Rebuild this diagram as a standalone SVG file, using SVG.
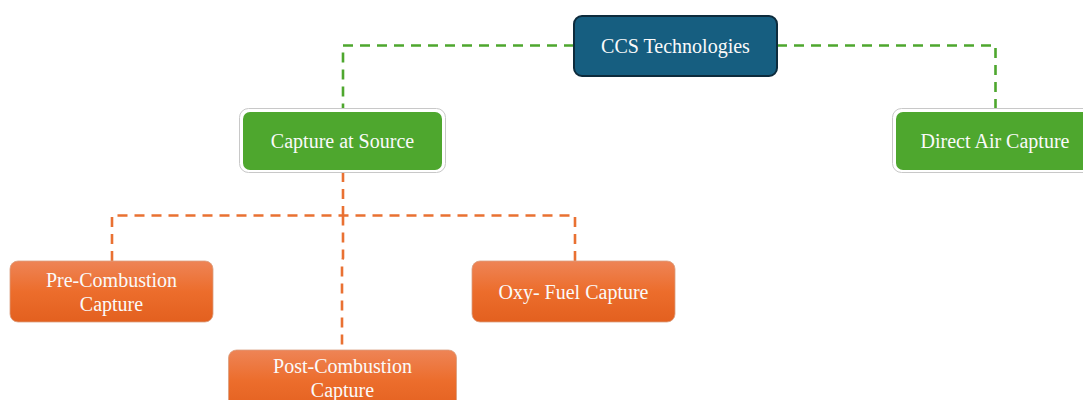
<svg xmlns="http://www.w3.org/2000/svg" width="1083" height="400" viewBox="0 0 1083 400">
  <defs>
    <linearGradient id="orangeGrad" x1="0" y1="0" x2="0" y2="1">
      <stop offset="0" stop-color="#ee8456"/>
      <stop offset="0.5" stop-color="#ec6d2c"/>
      <stop offset="1" stop-color="#e3601f"/>
    </linearGradient>
  </defs>
  <style>
    .lbl { font-family: "Liberation Serif", "Times New Roman", serif; font-size: 20px; fill: #fafafa; text-anchor: middle; }
    .root { fill: #165e80; stroke: #0d2b3c; stroke-width: 2; }
    .halo { fill: #ffffff; stroke: #c8c8c8; stroke-width: 1; }
    .green { fill: #4ea72e; }
    .orange { fill: url(#orangeGrad); stroke: #d9a080; stroke-width: 0.8; }
    .conn { fill: none; stroke-width: 2.6; stroke-dasharray: 10 7; }
    .g { stroke: #4ea72e; }
    .o { stroke: #e97132; }
  </style>

  <rect width="1083" height="400" fill="#ffffff"/>

  <!-- connectors -->
  <g id="connectors">
    <path class="conn g" d="M574 45.5 H343 V110"/>
    <path class="conn g" d="M777 45.5 H995.5 V110"/>
    <path class="conn o" d="M343 172 V215.5"/>
    <path class="conn o" d="M112 261 V215.5 H575 V261"/>
    <path class="conn o" d="M343 215.5 V258 L342 262 V350"/>
  </g>

  <g id="node-ccs">
    <rect class="root" x="574" y="16" width="203" height="60" rx="8"/>
    <text class="lbl" x="675.5" y="52.5">CCS Technologies</text>
  </g>

  <g id="node-capture-source">
    <rect class="halo" x="239.5" y="108.5" width="206" height="64" rx="9"/>
    <rect class="green" x="243" y="112" width="199" height="58" rx="7"/>
    <text class="lbl" x="342.5" y="147.5">Capture at Source</text>
  </g>

  <g id="node-direct-air">
    <rect class="halo" x="892.5" y="108.5" width="206" height="64" rx="9"/>
    <rect class="green" x="896" y="112" width="199" height="58" rx="7"/>
    <text class="lbl" x="995" y="147.5">Direct Air Capture</text>
  </g>

  <g id="node-pre-combustion">
    <rect class="orange" x="10" y="261" width="203" height="61" rx="8"/>
    <text class="lbl" x="111.5" y="286.5">Pre-Combustion</text>
    <text class="lbl" x="111.5" y="311">Capture</text>
  </g>

  <g id="node-oxy-fuel">
    <rect class="orange" x="472" y="261" width="203" height="61" rx="8"/>
    <text class="lbl" x="573.5" y="299">Oxy- Fuel Capture</text>
  </g>

  <g id="node-post-combustion">
    <rect class="orange" x="228.5" y="350" width="228" height="62" rx="8"/>
    <text class="lbl" x="342.5" y="372.5">Post-Combustion</text>
    <text class="lbl" x="342.5" y="397">Capture</text>
  </g>
</svg>
